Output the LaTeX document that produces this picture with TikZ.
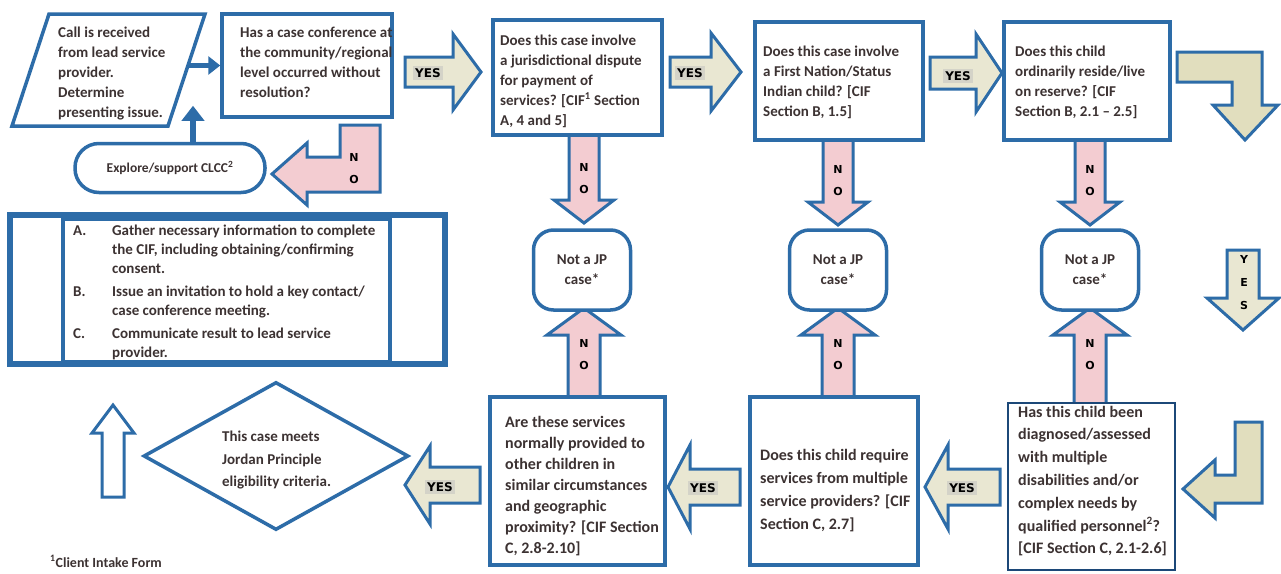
\documentclass[tikz,border=0pt]{standalone}
\usepackage{fontspec}
\setmainfont{Carlito}
\newfontfamily\lblfont{DejaVu Sans}
\usetikzlibrary{shapes.geometric,arrows.meta}
\definecolor{bl}{RGB}{45,108,168}
\definecolor{navy}{RGB}{28,72,120}
\definecolor{txt}{RGB}{60,50,50}
\definecolor{pinkf}{RGB}{243,204,209}
\definecolor{yesf}{RGB}{233,231,210}
\definecolor{tanf}{RGB}{225,222,190}
\definecolor{lblbg}{RGB}{212,211,200}
\tikzset{
  pics/barrow/.style args={#1/#2/#3/#4}{code={
    \path[pic actions] (0,-#2) -- ({#1-#4},-#2) -- ({#1-#4},-#3) -- (#1,0) -- ({#1-#4},#3) -- ({#1-#4},#2) -- (0,#2) -- cycle;}},
}
\begin{document}
\begin{tikzpicture}[x=1pt,y=-1pt,
  font=\fontsize{15}{20}\selectfont\bfseries, text=txt,
  box/.style={draw=bl, line width=3.5pt, fill=white, inner sep=0pt},
  qt/.style={align=left, inner sep=0pt, anchor=west},
  noarr/.style={draw=bl, fill=pinkf, line width=3pt, line join=miter},
  yesarr/.style={draw=bl, fill=yesf, line width=3pt, line join=miter},
  tanarr/.style={draw=bl, fill=tanf, line width=3pt, line join=miter},
  whitearr/.style={draw=bl, fill=white, line width=3pt, line join=miter},
  lbl/.style={font=\lblfont\bfseries\fontsize{11}{22}\selectfont, text=black, inner sep=0pt, align=center},
  ylbl/.style={font=\lblfont\bfseries\fontsize{12}{14}\selectfont, text=black, inner sep=2pt, fill=lblbg},
  smallarr/.style={draw=bl, line width=5pt, -{Triangle[length=12pt,width=18pt]}},
]
\fill[white] (0,0) rectangle (1281,573);
\useasboundingbox (0,0) rectangle (1281,573);

% ---------- block arrows (drawn first) ----------
\pic[yesarr] at (405,72) {barrow=76/15/38/28};
\pic[yesarr] at (670,72) {barrow=71/15/39/30};
\pic[yesarr] at (930,73) {barrow=72/16/39/26};
\pic[yesarr, rotate=-90] at (1243,250) {barrow=80/16/36/32};
\pic[noarr, rotate=-90] at (584,133) {barrow=90/15/30/23};
\pic[noarr, rotate=-90] at (838,138) {barrow=87/15/30/23};
\pic[noarr, rotate=-90] at (1090,138) {barrow=87/15/30/23};
\pic[noarr, rotate=90] at (584,399) {barrow=91/16/37/27};
\pic[noarr, rotate=90] at (838,399) {barrow=91/16/37/27};
\pic[noarr, rotate=90] at (1090,405) {barrow=97/16/37/27};
\pic[yesarr, rotate=180] at (1000,487) {barrow=75/18/42/23};
\pic[yesarr, rotate=180] at (740,487) {barrow=72/18/42/22};
\pic[yesarr, rotate=180] at (480,485) {barrow=75/18/39/25};
\pic[whitearr, rotate=90] at (113,497) {barrow=92/11/21/28};
% bent arrows
\draw[noarr] (340,125) -- (380,125) -- (380,192) -- (307,192) -- (307,205) -- (272,174) -- (307,143) -- (307,157) -- (340,157) -- cycle;
\draw[tanarr] (1177,52) -- (1262,52) -- (1262,105) -- (1278,105) -- (1245,140) -- (1213,105) -- (1232,105) -- (1232,82) -- (1177,82) -- cycle;
\draw[tanarr] (1235,422) -- (1262,422) -- (1262,503) -- (1215,503) -- (1215,518) -- (1183,489) -- (1215,460) -- (1215,475) -- (1235,475) -- cycle;

% ---------- shapes ----------
\draw[box] (12,126) -- (49,14) -- (205,14) -- (168,126) -- cycle;
\node[qt] (call) at (58,74)
  {Call is received\\from lead service\\provider.\\Determine\\presenting issue.};

\node[box, minimum width=170pt, minimum height=103pt] (conf) at (307,65.5) {};
\node[qt] (conft) at (240,62.5)
  {Has a case conference at\\the community/regional\\level occurred without\\resolution?};

\node[box, minimum width=169pt, minimum height=115pt] (juris) at (577.5,77.5) {};
\node[qt] (jurist) at (500,81)
  {Does this case involve\\a jurisdictional dispute\\for payment of\\services? [CIF\textsuperscript{1} Section\\A, 4 and 5]};

\node[box, minimum width=168pt, minimum height=118pt] (first) at (839,81) {};
\node[qt] (firstt) at (763,82)
  {Does this case involve\\a First Nation/Status\\Indian child? [CIF\\Section B, 1.5]};

\node[box, minimum width=166pt, minimum height=118pt] (reserve) at (1087,81) {};
\node[qt] (reservet) at (1015,82)
  {Does this child\\ordinarily reside/live\\on reserve? [CIF\\Section B, 2.1 -- 2.5]};

\node[box, rounded corners=24pt, minimum width=190pt, minimum height=49pt, align=center,
  font=\fontsize{13.5}{15}\selectfont\bfseries] (explore) at (170,168) {Explore/support CLCC\textsuperscript{2}};

\node[box, rounded corners=20pt, minimum width=97pt, minimum height=80pt, align=center] (nj1) at (582,270) {Not a JP\\case*};
\node[box, rounded corners=20pt, minimum width=97pt, minimum height=80pt, align=center] (nj2) at (838,270) {Not a JP\\case*};
\node[box, rounded corners=20pt, minimum width=97pt, minimum height=80pt, align=center] (nj3) at (1090,270) {Not a JP\\case*};

% A/B/C box
\draw[bl, line width=5.5pt] (10,215) rectangle (445,364);
\draw[bl, line width=3.5pt] (63,219) rectangle (390,362);
\node[anchor=north west, inner sep=0pt, font=\fontsize{15}{19}\selectfont\bfseries] (steps) at (73,222)
  {\begin{tabular}{@{}p{39pt}@{}l@{}}
   A. & Gather necessary information to complete\\
      & the CIF, including obtaining/confirming\\
      & consent.\\[4pt]
   B. & Issue an invitation to hold a key contact/\\
      & case conference meeting.\\[4pt]
   C. & Communicate result to lead service\\
      & provider.
   \end{tabular}};

% bottom row
\node[box, minimum width=175pt, minimum height=168pt] (services) at (577.5,481) {};
\node[qt, font=\fontsize{16}{21}\selectfont\bfseries] (servicest) at (505,486)
  {Are these services\\normally provided to\\other children in\\similar circumstances\\and geographic\\proximity? [CIF Section\\C, 2.8-2.10]};
\node[box, minimum width=168pt, minimum height=168pt] (multiple) at (834,481) {};
\node[qt, font=\fontsize{16}{23}\selectfont\bfseries] (multiplet) at (760,491)
  {Does this child require\\services from multiple\\service providers? [CIF\\Section C, 2.7]};
\node[box, draw=navy, line width=2.5pt, minimum width=167pt, minimum height=167pt] (diagnosed) at (1091.5,486.5) {};
\node[qt, font=\fontsize{16}{22.8}\selectfont\bfseries] (diagnosedt) at (1018,481)
  {Has this child been\\diagnosed/assessed\\with multiple\\disabilities and/or\\complex needs by\\qualified personnel\textsuperscript{2}?\\{[CIF} Section C, 2.1-2.6]};

\node[draw=bl, line width=3.5pt, fill=white, diamond, aspect=1.79, minimum width=265pt, minimum height=148pt,
  inner sep=0pt] (elig) at (276,456) {};
\node[qt, font=\fontsize{15}{22}\selectfont\bfseries] (eligt) at (222,460)
  {This case meets\\Jordan Principle\\eligibility criteria.};

% small connectors
\draw[smallarr] ([xshift=-32pt]conf.west) -- (conf.west);
\draw[draw=bl, line width=6pt, -{Triangle[length=15pt,width=22pt]}] ([xshift=23pt]explore.north) -- ++(0,-36);

% ---------- labels ----------
\node[ylbl] (l1) at (428,73) {YES};
\node[ylbl] (l2) at (690,73) {YES};
\node[ylbl] (l3) at (958,76) {YES};
\node[lbl] (ly) at (1244,259) {Y};
\node[lbl] (le) at (1244,282) {E};
\node[lbl] (ls) at (1244,305) {S};
\node[ylbl] (l5) at (962,488) {YES};
\node[ylbl] (l6) at (703,488) {YES};
\node[ylbl] (l7) at (440,487) {YES};
\node[lbl] (n0) at (354,169) {N\\O};
\node[lbl] (n1) at (584,179) {N\\O};
\node[lbl] (n2) at (838,181) {N\\O};
\node[lbl] (n3) at (1090,181) {N\\O};
\node[lbl] (n4) at (584,355) {N\\O};
\node[lbl] (n5) at (838,355) {N\\O};
\node[lbl] (n6) at (1090,355) {N\\O};

\node[anchor=base west, inner sep=0pt, font=\fontsize{14}{16}\selectfont\bfseries] (fn) at (50,567)
  {\textsuperscript{1}Client Intake Form};
\end{tikzpicture}
\end{document}
